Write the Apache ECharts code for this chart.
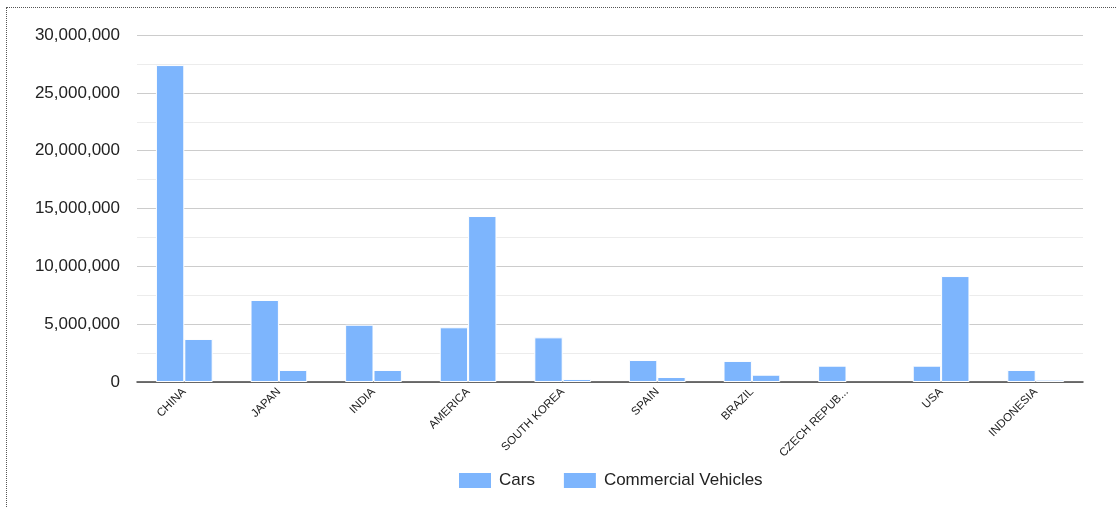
<!DOCTYPE html>
<html>
<head>
<meta charset="utf-8">
<script src="https://cdn.jsdelivr.net/npm/echarts@6/dist/echarts.min.js"></script>
<style>
  html, body { margin: 0; padding: 0; background: #fff; }
  #frame { position: absolute; left: 6px; top: 7px; width: 1120px; height: 520px; border: 1px dotted #555; box-sizing: border-box; }
  #chart { position: absolute; left: 0; top: 0; width: 1117px; height: 508px; }
</style>
</head>
<body>
<div id="frame"></div>
<div id="chart"></div>
<script>
// Vehicle production by country
const countries = ['CHINA', 'JAPAN', 'INDIA', 'AMERICA', 'SOUTH KOREA', 'SPAIN', 'BRAZIL', 'CZECH REPUBLIC', 'USA', 'INDONESIA'];
const cars = [27400000, 7090000, 4950000, 4730000, 3860000, 1900000, 1820000, 1410000, 1410000, 1040000];
const commercialVehicles = [3720000, 1040000, 1040000, 14350000, 260000, 430000, 630000, null, 9160000, 200000];
const seriesNames = ['Cars', 'Commercial Vehicles'];

const barColor = '#7db5fd';
const chart = echarts.init(document.getElementById('chart'), null, { renderer: 'canvas' });

const barSeries = (name, data) => ({
  name: name,
  type: 'bar',
  data: data,
  barGap: '0%',
  barCategoryGap: '40%',
  itemStyle: { color: barColor, borderColor: '#ffffff', borderWidth: 1 }
});

chart.setOption({
  animation: false,
  textStyle: { fontFamily: 'Liberation Sans, Arial, sans-serif' },
  grid: { left: 137, right: 34, top: 35, bottom: 126, containLabel: false },
  legend: {
    data: seriesNames,
    top: 466,
    left: 452,
    itemWidth: 34,
    itemHeight: 17,
    itemGap: 27,
    icon: 'rect',
    textStyle: { fontSize: 17, color: '#222', padding: [0, 0, 0, 2] }
  },
  xAxis: {
    type: 'category',
    data: countries,
    axisTick: { show: false },
    axisLine: { lineStyle: { color: '#444', width: 1.5 } },
    axisLabel: {
      rotate: 45,
      interval: 0,
      fontSize: 11.5,
      color: '#222',
      margin: 8,
      formatter: v => v.length > 12 ? v.slice(0, 11) + '...' : v
    }
  },
  yAxis: {
    type: 'value',
    min: 0,
    max: 30000000,
    interval: 5000000,
    axisLine: { show: false },
    axisTick: { show: false },
    axisLabel: {
      fontSize: 17,
      color: '#222',
      margin: 17,
      formatter: v => v.toLocaleString('en-US')
    },
    splitLine: { lineStyle: { color: '#cccccc', width: 1 } },
    minorTick: { show: false, splitNumber: 2 },
    minorSplitLine: { show: true, lineStyle: { color: '#ececec', width: 1 } }
  },
  series: [
    barSeries(seriesNames[0], cars),
    barSeries(seriesNames[1], commercialVehicles)
  ]
});
</script>
</body>
</html>
